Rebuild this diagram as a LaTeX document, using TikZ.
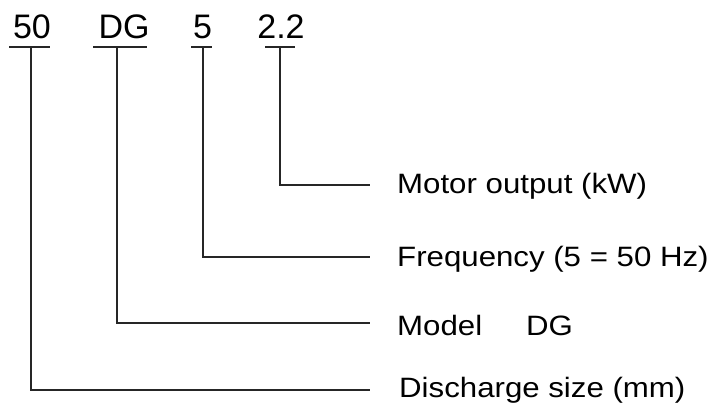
\documentclass[tikz,border=0pt]{standalone}
\usepackage{fontspec}
\setmainfont{Liberation Sans}
\newfontfamily\lblfont[FakeStretch=1.115]{Liberation Sans}
\begin{document}
\begin{tikzpicture}[x=1pt,y=-1pt,
  codetext/.style={inner sep=0pt,anchor=base,font=\fontsize{34}{40}\selectfont},
  labeltext/.style={inner sep=0pt,anchor=base west,font=\lblfont\fontsize{28}{34}\selectfont},
  wire/.style={line width=1.7pt,black!85},
  uline/.style={line width=1.7pt,black!85}]
\useasboundingbox (0,0) rectangle (720,409);
% code characters
\node[codetext] (c50) at (32,39) {50};
\node[codetext] (cDG) at (124,39) {DG};
\node[codetext] (c5)  at (202.5,39) {5};
\node[codetext] (c22) at (281,39) {2.2};
% underlines
\coordinate (u50a) at (9,47);   \coordinate (u50b) at (50,47);
\coordinate (uDGa) at (93,47);  \coordinate (uDGb) at (147,47);
\coordinate (u5a)  at (191,47); \coordinate (u5b)  at (212,47);
\coordinate (u22a) at (265,47); \coordinate (u22b) at (295,47);
\draw[uline] (u50a) -- (u50b);
\draw[uline] (uDGa) -- (uDGb);
\draw[uline] (u5a) -- (u5b);
\draw[uline] (u22a) -- (u22b);
% labels
\node[labeltext] (l22) at (397,193) {Motor output (kW)};
\node[labeltext] (l5)  at (397,266) {Frequency (5 = 50 Hz)};
\node[labeltext] (lDG) at (397,335) {Model\hspace{44pt}DG};
\node[labeltext] (l50) at (399,397) {Discharge size (mm)};
% connector corners
\coordinate (t22) at (280,47); \coordinate (e22) at (370,185);
\coordinate (t5)  at (203,47); \coordinate (e5)  at (370,257);
\coordinate (tDG) at (117,47); \coordinate (eDG) at (370,323);
\coordinate (t50) at (31,47);  \coordinate (e50) at (370,390);
\draw[wire] (t22) |- (e22);
\draw[wire] (t5) |- (e5);
\draw[wire] (tDG) |- (eDG);
\draw[wire] (t50) |- (e50);
\end{tikzpicture}
\end{document}
